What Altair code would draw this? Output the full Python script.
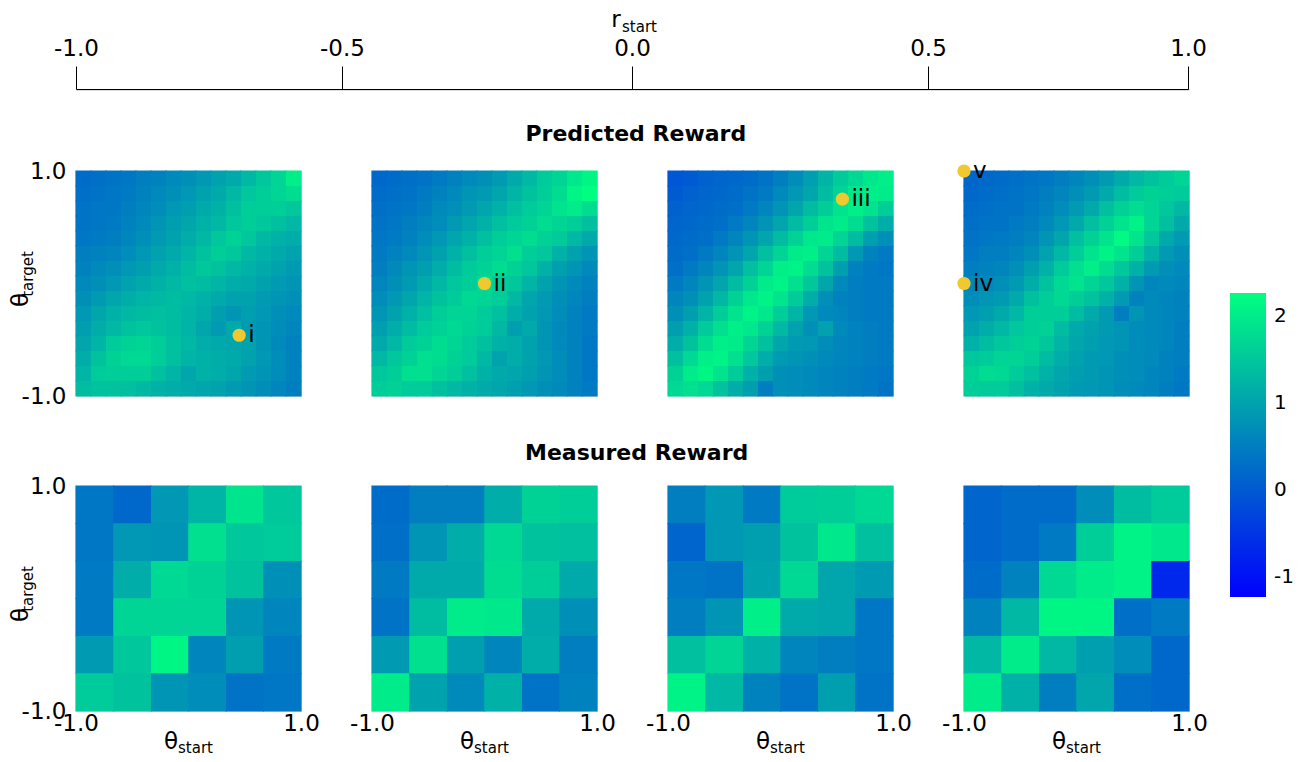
import altair as alt
import pandas as pd

# ---------------- data ----------------
# Predicted reward, 15x15 grids. Row 0 = theta_target 1.0 (top), col 0 = theta_start -1.0
PRED_1 = [
    [0.25,0.3,0.35,0.4,0.5,0.55,0.65,0.75,0.85,1.0,1.1,1.3,1.5,1.7,2.05],
    [0.3,0.35,0.4,0.45,0.55,0.65,0.75,0.85,1.0,1.1,1.3,1.5,1.6,1.7,1.8],
    [0.35,0.4,0.4,0.5,0.6,0.7,0.85,0.95,1.1,1.2,1.4,1.6,1.6,1.6,1.5],
    [0.35,0.4,0.45,0.55,0.65,0.8,0.95,1.05,1.2,1.3,1.5,1.6,1.5,1.4,1.3],
    [0.4,0.45,0.5,0.6,0.75,0.9,1.0,1.15,1.3,1.5,1.65,1.5,1.3,1.2,1.15],
    [0.5,0.55,0.6,0.7,0.85,1.0,1.1,1.25,1.45,1.6,1.5,1.3,1.2,1.1,1.0],
    [0.55,0.65,0.75,0.85,0.95,1.1,1.2,1.35,1.5,1.45,1.3,1.2,1.1,1.0,0.9],
    [0.65,0.75,0.85,1.0,1.1,1.2,1.3,1.4,1.35,1.25,1.15,1.1,1.0,0.9,0.8],
    [0.75,0.9,1.05,1.15,1.25,1.3,1.35,1.3,1.2,1.1,1.0,1.0,0.9,0.8,0.75],
    [0.85,1.05,1.2,1.3,1.35,1.4,1.35,1.25,1.15,0.95,0.8,0.95,0.85,0.75,0.65],
    [0.95,1.15,1.3,1.45,1.5,1.45,1.35,1.25,1.05,0.9,1.1,0.9,0.8,0.7,0.6],
    [1.05,1.25,1.55,1.65,1.7,1.6,1.4,1.3,1.15,1.1,1.05,1.0,0.8,0.65,0.55],
    [1.15,1.45,1.65,1.75,1.75,1.6,1.4,1.25,1.2,1.15,1.1,1.0,0.85,0.7,0.55],
    [1.25,1.55,1.6,1.6,1.6,1.4,1.25,1.05,1.2,1.15,1.05,0.9,0.8,0.7,0.55],
    [1.35,1.45,1.45,1.4,1.3,1.2,1.15,1.1,1.05,1.0,0.9,0.8,0.7,0.6,0.5],
]
PRED_2 = [
    [0.2,0.25,0.3,0.35,0.45,0.55,0.65,0.75,0.9,1.1,1.3,1.55,1.7,1.95,2.15],
    [0.25,0.3,0.35,0.45,0.55,0.65,0.8,0.9,1.05,1.25,1.45,1.6,1.8,2.15,2.25],
    [0.3,0.35,0.4,0.5,0.65,0.75,0.9,1.05,1.2,1.4,1.55,1.7,1.9,2.0,1.8],
    [0.35,0.4,0.5,0.6,0.7,0.9,1.05,1.2,1.4,1.55,1.65,1.8,1.7,1.6,1.4],
    [0.4,0.45,0.55,0.7,0.85,1.05,1.2,1.4,1.6,1.7,1.8,1.65,1.55,1.3,1.1],
    [0.45,0.55,0.65,0.8,1.0,1.2,1.4,1.6,1.7,1.85,1.6,1.5,1.2,1.0,0.8],
    [0.5,0.65,0.8,0.95,1.15,1.35,1.55,1.65,1.8,1.65,1.5,1.2,0.95,0.8,0.65],
    [0.6,0.75,0.9,1.1,1.3,1.5,1.6,1.8,1.6,1.5,1.25,1.0,0.8,0.65,0.55],
    [0.7,0.85,1.05,1.25,1.45,1.55,1.75,1.7,1.6,1.3,1.05,0.9,0.75,0.6,0.5],
    [0.8,1.0,1.2,1.4,1.6,1.7,1.7,1.55,1.4,1.15,1.0,0.85,0.7,0.55,0.45],
    [0.95,1.15,1.35,1.55,1.65,1.75,1.65,1.55,1.3,0.95,1.1,0.8,0.65,0.55,0.45],
    [1.1,1.3,1.55,1.65,1.8,1.7,1.55,1.4,1.2,1.15,1.0,0.8,0.65,0.55,0.4],
    [1.3,1.5,1.65,1.85,1.8,1.65,1.55,1.3,1.0,1.15,1.0,0.85,0.7,0.55,0.4],
    [1.5,1.6,1.85,1.85,1.7,1.6,1.4,1.2,1.1,1.05,0.95,0.8,0.7,0.55,0.4],
    [1.6,1.65,1.55,1.55,1.4,1.3,1.2,1.1,1.05,0.95,0.85,0.75,0.65,0.55,0.45],
]
PRED_3 = [
    [-0.05,0.0,0.1,0.15,0.2,0.25,0.35,0.5,0.7,0.95,1.25,1.55,1.75,1.95,2.05],
    [0.0,0.1,0.15,0.2,0.25,0.35,0.45,0.65,0.85,1.05,1.35,1.7,1.95,2.05,2.0],
    [0.1,0.15,0.2,0.25,0.3,0.45,0.6,0.8,1.05,1.35,1.6,1.9,2.05,1.9,1.6],
    [0.15,0.2,0.25,0.3,0.45,0.6,0.8,1.05,1.35,1.6,1.9,2.0,1.8,1.45,1.15],
    [0.2,0.25,0.3,0.45,0.6,0.8,1.05,1.35,1.65,1.95,2.0,1.7,1.35,0.95,0.75],
    [0.25,0.3,0.45,0.6,0.8,1.05,1.4,1.7,2.0,2.05,1.7,1.35,0.85,0.55,0.45],
    [0.3,0.45,0.6,0.8,1.05,1.4,1.7,2.05,2.1,1.8,1.45,0.95,0.55,0.45,0.4],
    [0.45,0.6,0.8,1.05,1.35,1.65,2.0,2.1,1.85,1.5,1.05,0.65,0.5,0.45,0.45],
    [0.6,0.75,1.0,1.3,1.65,1.95,2.1,1.9,1.55,1.15,0.75,0.55,0.5,0.45,0.45],
    [0.75,0.95,1.25,1.6,1.9,2.1,1.95,1.6,1.25,0.85,0.65,0.6,0.5,0.45,0.45],
    [0.95,1.2,1.55,1.85,2.05,1.95,1.65,1.3,1.0,0.75,1.0,0.65,0.55,0.5,0.45],
    [1.15,1.45,1.8,2.05,2.0,1.7,1.4,1.05,0.9,0.85,0.7,0.6,0.55,0.5,0.45],
    [1.4,1.75,2.05,2.1,1.85,1.5,1.15,0.9,0.8,0.75,0.65,0.6,0.55,0.5,0.45],
    [1.65,2.0,2.15,1.9,1.55,1.2,0.95,0.75,0.7,0.65,0.6,0.55,0.5,0.45,0.4],
    [1.75,1.85,1.75,1.45,1.15,0.95,0.5,0.75,0.7,0.65,0.6,0.55,0.5,0.45,0.35],
]
PRED_4 = [
    [0.15,0.2,0.25,0.3,0.35,0.4,0.5,0.6,0.75,0.9,1.1,1.3,1.45,1.55,1.7],
    [0.2,0.25,0.3,0.35,0.4,0.5,0.6,0.75,0.9,1.1,1.35,1.55,1.65,1.6,1.55],
    [0.25,0.3,0.35,0.35,0.45,0.55,0.7,0.9,1.1,1.4,1.65,1.8,1.7,1.5,1.3],
    [0.3,0.35,0.35,0.45,0.5,0.65,0.85,1.1,1.4,1.65,1.9,2.1,1.7,1.4,1.1],
    [0.35,0.4,0.45,0.5,0.6,0.8,1.05,1.4,1.65,1.9,2.2,1.9,1.5,1.1,0.9],
    [0.4,0.5,0.5,0.6,0.75,1.0,1.3,1.6,1.9,2.1,1.9,1.6,1.2,0.9,0.75],
    [0.5,0.55,0.6,0.75,0.95,1.2,1.55,1.85,2.05,1.8,1.5,1.2,0.9,0.75,0.65],
    [0.6,0.65,0.75,0.9,1.15,1.45,1.75,1.9,1.7,1.5,1.2,0.8,0.6,0.65,0.6],
    [0.7,0.8,0.9,1.1,1.4,1.6,1.75,1.6,1.45,1.2,0.9,0.55,0.65,0.6,0.55],
    [0.85,0.95,1.1,1.3,1.6,1.6,1.6,1.35,1.1,0.9,0.5,0.8,0.65,0.6,0.55],
    [1.0,1.15,1.3,1.5,1.6,1.65,1.35,1.1,1.0,0.9,0.8,0.7,0.65,0.6,0.5],
    [1.2,1.35,1.5,1.6,1.65,1.5,1.25,1.05,0.95,0.85,0.8,0.7,0.65,0.6,0.5],
    [1.5,1.55,1.7,1.7,1.6,1.35,1.15,1.0,0.9,0.85,0.75,0.7,0.65,0.55,0.5],
    [1.65,1.8,1.75,1.55,1.4,1.2,1.05,0.95,0.9,0.8,0.75,0.7,0.6,0.55,0.45],
    [1.6,1.55,1.55,1.4,1.2,1.1,1.0,0.9,0.85,0.8,0.7,0.65,0.6,0.5,0.4],
]

# Measured reward, 6x6 grids
MEAS_1 = [
    [0.4,0.2,0.85,1.25,1.9,1.5],
    [0.4,0.85,0.8,1.85,1.5,1.55],
    [0.45,1.15,1.75,1.65,1.45,0.75],
    [0.45,1.7,1.7,1.7,0.8,0.6],
    [0.9,1.5,2.15,0.6,0.95,0.45],
    [1.55,1.45,0.8,0.7,0.35,0.4],
]
MEAS_2 = [
    [0.25,0.5,0.5,1.15,1.65,1.6],
    [0.3,0.8,1.15,1.75,1.45,1.4],
    [0.45,1.1,1.1,1.8,1.6,1.1],
    [0.35,1.35,2.0,1.95,1.1,0.75],
    [0.9,1.85,0.95,0.6,1.15,0.5],
    [2.0,1.0,0.65,1.2,0.35,0.55],
]
MEAS_3 = [
    [0.5,0.85,0.45,1.55,1.6,1.75],
    [0.15,0.85,0.95,1.45,1.95,1.4],
    [0.4,0.35,1.0,1.75,1.05,0.9],
    [0.5,0.8,2.05,1.1,1.05,0.4],
    [1.4,1.7,1.2,0.6,0.5,0.4],
    [2.1,1.3,0.55,0.35,0.95,0.35],
]
MEAS_4 = [
    [0.15,0.25,0.25,0.7,1.35,1.55],
    [0.15,0.25,0.45,1.6,2.1,1.95],
    [0.25,0.55,1.75,2.0,2.1,-0.7],
    [0.55,1.3,2.15,2.15,0.3,0.45],
    [1.3,2.0,1.3,0.95,0.7,0.2],
    [2.0,1.2,0.5,1.05,0.3,0.2],
]

R_TICKS = [-1.0, -0.5, 0.0, 0.5, 1.0]
AXIS_TICKS = [-1.0, 1.0]
CBAR_TICKS = [-1, 0, 1, 2]

POINT_PANEL = [1, 2, 3, 4, 4]
POINT_THETA_START = [0.45, 0.0, 0.55, -1.0, -1.0]
POINT_THETA_TARGET = [-0.46, 0.0, 0.75, 0.0, 1.0]
POINT_LABEL = ["i", "ii", "iii", "iv", "v"]

# ---------------- styling ----------------
FONT = "DejaVu Sans"
FS = 23
W = 225
H = 225
GAP = 71
CMIN, CMAX = -1.23, 2.27

HYPHEN_1F = "datum.value < 0 ? '-' + format(-datum.value, '.1f') : format(datum.value, '.1f')"
HYPHEN_D = "datum.value < 0 ? '-' + format(-datum.value, 'd') : format(datum.value, 'd')"

color_scale = alt.Scale(domain=[CMIN, CMAX], range=["#0000ff", "#00ff80"],
                        interpolate="rgb", nice=False, zero=False, clamp=True)
edge_scale = alt.Scale(domain=[CMIN, CMAX], range=["#0000ff", "#00ff80"],
                       interpolate="rgb", nice=False, zero=False, clamp=True)
legend = alt.Legend(title=None, orient="none", legendX=1154, legendY=204,
                    type="gradient", direction="vertical", gradientLength=304,
                    gradientThickness=36, values=CBAR_TICKS, labelExpr=HYPHEN_D,
                    labelFontSize=20, labelFont=FONT, labelColor="black",
                    labelOffset=8, gradientStrokeWidth=0)

pos_scale = alt.Scale(domain=[-1, 1], nice=False, zero=False)


def grid_df(grid):
    n = len(grid)
    rec = []
    for i, row in enumerate(grid):
        for j, v in enumerate(row):
            rec.append(dict(x0=-1 + 2 * j / n, x1=-1 + 2 * (j + 1) / n,
                            y0=1 - 2 * (i + 1) / n, y1=1 - 2 * i / n, v=v, edge=v))
    return pd.DataFrame(rec)


def axis(show, orient, pad):
    if not show:
        return None
    return alt.Axis(orient=orient, values=AXIS_TICKS, labelExpr=HYPHEN_1F, title=None,
                    ticks=False, domain=False, grid=False, labelFontSize=FS,
                    labelFont=FONT, labelColor="black", labelPadding=pad,
                    labelFlush=False, labelOverlap=False)


def text_layer(txt, x, y, size, angle=0, align="center"):
    return alt.Chart(pd.DataFrame({"t": [txt]})).mark_text(
        text=txt, fontSize=size, font=FONT, color="black", angle=angle,
        align=align, baseline="middle").encode(x=alt.value(x), y=alt.value(y))


def panel(grid, idx, measured):
    show_y = idx == 1
    show_x = measured
    df = grid_df(grid)
    xenc = alt.X("x0:Q", scale=pos_scale, axis=axis(show_x, "bottom", 1))
    yenc = alt.Y("y0:Q", scale=pos_scale, axis=axis(show_y, "left", 10))
    heat = alt.Chart(df).mark_rect().encode(
        x=xenc, x2="x1", y=yenc, y2="y1",
        color=alt.Color("v:Q", scale=color_scale, legend=legend),
    )
    # thin outline layer underneath, only to hide anti-aliasing seams between cells
    seams = alt.Chart(df).mark_rect(fillOpacity=0, strokeWidth=1.2).encode(
        x=xenc, x2="x1", y=yenc, y2="y1",
        stroke=alt.Stroke("edge:Q", scale=edge_scale, legend=None),
    )
    layers = [seams, heat]
    if not measured:
        pts = pd.DataFrame({"panel": POINT_PANEL, "ts": POINT_THETA_START,
                            "tt": POINT_THETA_TARGET, "lab": POINT_LABEL})
        pts = pts[pts["panel"] == idx]
        base = alt.Chart(pts).encode(x=alt.X("ts:Q", scale=pos_scale),
                                     y=alt.Y("tt:Q", scale=pos_scale))
        layers.append(base.mark_circle(size=175, color="#f0c830", opacity=1))
        layers.append(base.mark_text(align="left", baseline="middle", dx=9,
                                     fontSize=FS, font=FONT, color="black")
                      .encode(text="lab:N"))
    if show_y:
        layers.append(text_layer("θ", -55, 129, FS, angle=270))
        layers.append(text_layer("target", -48, 103, 15, angle=270))
    if show_x:
        layers.append(text_layer("θ", 95, 256, FS))
        layers.append(text_layer("start", 102, 262, 15, align="left"))
    return alt.layer(*layers).resolve_scale(stroke="independent").properties(
        width=W, height=H)


pred_row = alt.hconcat(
    *[panel(g, i + 1, False) for i, g in enumerate([PRED_1, PRED_2, PRED_3, PRED_4])],
    spacing=GAP, bounds="flush",
    title=alt.TitleParams("Predicted Reward", fontSize=22, fontWeight="bold",
                          font=FONT, anchor="middle", offset=14, dx=36, color="black"),
)
meas_row = alt.hconcat(
    *[panel(g, i + 1, True) for i, g in enumerate([MEAS_1, MEAS_2, MEAS_3, MEAS_4])],
    spacing=GAP, bounds="flush",
    title=alt.TitleParams("Measured Reward", fontSize=22, fontWeight="bold",
                          font=FONT, anchor="middle", offset=10, dx=28, color="black"),
)

top_w = 4 * W + 3 * GAP
top = alt.layer(
    alt.Chart(pd.DataFrame({"r": R_TICKS})).mark_point(opacity=0).encode(
        x=alt.X("r:Q",
                scale=alt.Scale(domain=R_TICKS, range=[0, 266, 556, 852, top_w - 1]),
                axis=alt.Axis(orient="top", values=R_TICKS, labelExpr=HYPHEN_1F,
                              title=None, tickSize=23, tickColor="black",
                              domainColor="black", grid=False, labelFontSize=FS,
                              labelFont=FONT, labelColor="black", labelPadding=6,
                              labelFlush=False)),
        y=alt.value(0),
    ),
    text_layer("r", 540, -69, FS),
    text_layer("start", 546, -62, 15, align="left"),
).properties(width=top_w, height=1)

rows = alt.vconcat(pred_row, meas_row, spacing=32)
chart = alt.vconcat(top, rows, spacing=29).resolve_scale(
    color="shared").properties(
    padding={"left": 1, "top": 0, "right": 5, "bottom": 0}
).configure_view(stroke=None).configure(background="white")

chart.save("out.html", embed_options={"renderer": "svg", "actions": False})
